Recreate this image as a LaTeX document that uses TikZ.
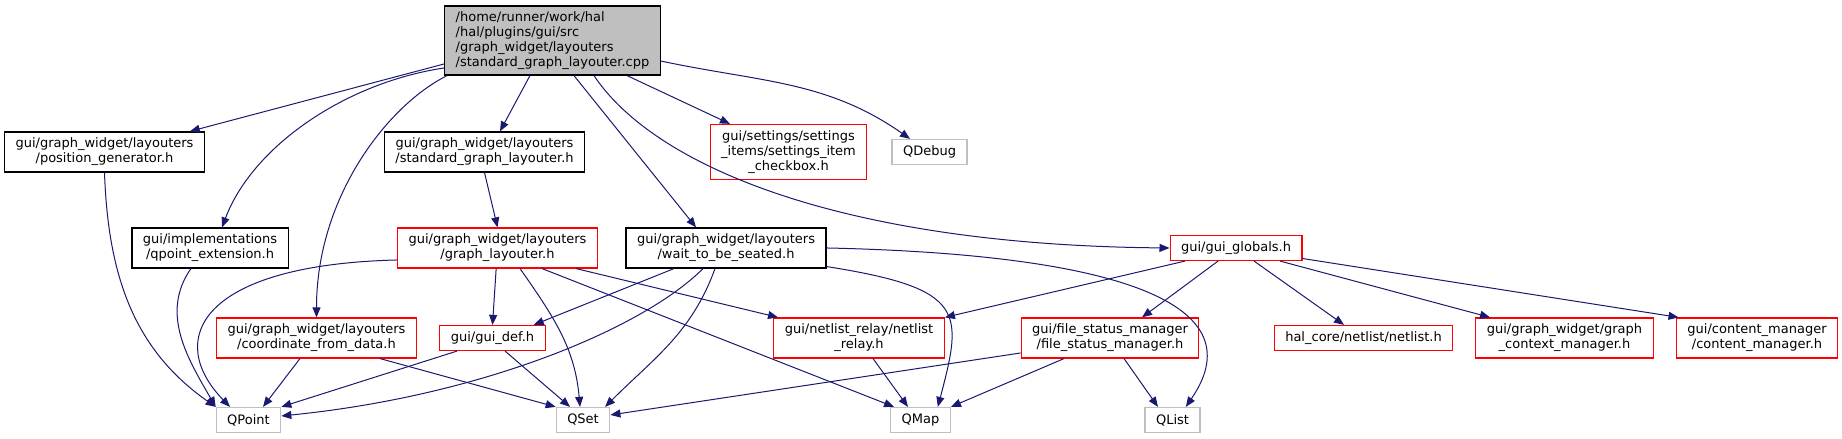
\documentclass[tikz,border=0pt]{standalone}
\usepackage{fontspec}
\setmainfont{DejaVu Sans}
\usetikzlibrary{arrows.meta, positioning}
\definecolor{edgeblue}{HTML}{191970}
\definecolor{extgray}{HTML}{BFBFBF}

\begin{document}
\begin{tikzpicture}[x=0.75pt, y=-0.75pt, on grid]

	\tikzset{
		file/.style={
				rectangle, draw=black, fill=white, line width=0.9pt, inner xsep=8.25pt, inner ysep=0pt, align=center, font=\fontsize{9.75}{11.25}\selectfont
			},
		trunc/.style={file, draw=red},
		ext/.style={file, draw=extgray},
		rootfile/.style={file, fill=extgray, align=left},
		oneline/.style={minimum height=18.75pt},
		twoline/.style={minimum height=30pt},
		threeline/.style={minimum height=41.25pt},
		fourline/.style={minimum height=51.75pt},
		dep/.style={draw=edgeblue, line width=0.75pt, -{Triangle[length=7.5pt, width=6pt]}},
	}

	\useasboundingbox (0,0) rectangle (1842,439);

	\node[rootfile, fourline] (root) at (552.5,40.5) {/home/runner/work/hal\\/hal/plugins/gui/src\\/graph\_widget/layouters\\/standard\_graph\_layouter.cpp};

	\node[file, twoline, below left=83.6pt and 51pt of root] (stdgl) {gui/graph\_widget/layouters\\/standard\_graph\_layouter.h};
	\node[file, twoline, left=285pt of stdgl] (posgen) {gui/graph\_widget/layouters\\/position\_generator.h};
	\node[trunc, threeline, right=228pt of stdgl] (chkbox) {gui/settings/settings\\\_items/settings\_item\\\_checkbox.h};
	\node[ext, oneline, right=105.75pt of chkbox] (qdebug) {QDebug};

	\node[trunc, twoline, below right=72pt and 9.75pt of stdgl] (graphl) {gui/graph\_widget/layouters\\/graph\_layouter.h};
	\node[file, twoline, left=215.6pt of graphl] (qptext) {gui/implementations\\/qpoint\_extension.h};
	\node[file, twoline, right=171.4pt of graphl] (wait) {gui/graph\_widget/layouters\\/wait\_to\_be\_seated.h};
	\node[trunc, oneline, right=382.5pt of wait] (globals) {gui/gui\_globals.h};

	\node[trunc, oneline, below left=67.5pt and 3.75pt of graphl] (guidef) {gui/gui\_def.h};
	\node[trunc, twoline, left=132pt of guidef] (coord) {gui/graph\_widget/layouters\\/coordinate\_from\_data.h};
	\node[trunc, twoline, right=274.9pt of guidef] (relay) {gui/netlist\_relay/netlist\\\_relay.h};
	\node[trunc, twoline, right=188.25pt of relay] (fsm) {gui/file\_status\_manager\\/file\_status\_manager.h};
	\node[trunc, oneline, right=190.1pt of fsm] (netlist) {hal\_core/netlist/netlist.h};
	\node[trunc, twoline, right=150.75pt of netlist] (gctx) {gui/graph\_widget/graph\\\_context\_manager.h};
	\node[trunc, twoline, right=144.4pt of gctx] (cmgr) {gui/content\_manager\\/content\_manager.h};

	\node[ext, oneline, below left=61.5pt and 51pt of coord] (qpoint) {QPoint};
	\node[ext, oneline, right=250.9pt of qpoint] (qset) {QSet};
	\node[ext, oneline, right=253.1pt of qset] (qmap) {QMap};
	\node[ext, oneline, right=189pt of qmap] (qlist) {QList};

	\draw[dep] ([yshift=-17.6pt]root.west) -- ([xshift=64pt]posgen.north);
	\draw[dep] ([yshift=-20.6pt]root.west) .. controls +(-100,15) and +(30,-80) .. ([xshift=9pt]qptext.north);
	\draw[dep] ([xshift=2.25pt]root.south west) .. controls +(-60,30) and +(0,-120) .. (coord.north);
	\draw[dep] ([xshift=-16.9pt]root.south) -- ([xshift=11.6pt]stdgl.north);
	\draw[dep] ([xshift=16.1pt]root.south) -- ([xshift=-22.5pt]wait.north);
	\draw[dep] ([xshift=31.1pt]root.south) .. controls +(60,90) and +(-330,-3) .. (globals.west);
	\draw[dep] ([xshift=55.9pt]root.south) -- ([xshift=-43.9pt]chkbox.north);
	\draw[dep] ([yshift=-15.4pt]root.east) to[out=-12,in=145] ([xshift=-14.6pt]qdebug.north);

	\draw[dep] (posgen.south) to[out=-88,in=145] (qpoint.north west);
	\draw[dep] ([xshift=-14.3pt]qptext.south) to[out=-125,in=120] (qpoint.north west);
	\draw[dep] (stdgl.south) -- (graphl.north);

	\draw[dep] ([yshift=-9pt]graphl.west) .. controls +(-198,5) and +(-65,-67) .. ([xshift=-13.9pt]qpoint.north);
	\draw[dep] ([xshift=-1pt]graphl.south) -- (guidef.north);
	\draw[dep] ([xshift=16.9pt]graphl.south) to[out=-55,in=95] ([xshift=-2.25pt]qset.north);
	\draw[dep] ([xshift=33.4pt]graphl.south) -- ([xshift=3pt]qmap.north west);
	\draw[dep] ([xshift=58.9pt]graphl.south) -- ([xshift=-60.75pt]relay.north);

	\draw[dep] ([xshift=-39pt]wait.south) -- ([xshift=-9pt]guidef.north east);
	\draw[dep] ([xshift=-17.25pt]wait.south) .. controls +(-60,60) and +(200,-20) .. ([yshift=3pt]qpoint.east);
	\draw[dep] ([xshift=-8.25pt]wait.south) to[out=-110,in=45] ([xshift=-4pt]qset.north east);
	\draw[dep] ([yshift=1.5pt]wait.south east) .. controls +(140,22) and +(25,-95) .. ([xshift=13pt]qmap.north);
	\draw[dep] (wait.east) .. controls +(275,6) and +(74,-108) .. ([xshift=10pt]qlist.north);

	\draw[dep] ([xshift=-12.4pt]coord.south) -- ([xshift=10.9pt]qpoint.north);
	\draw[dep] ([xshift=47.6pt]coord.south) -- (qset.north west);
	\draw[dep] ([xshift=-26.6pt]guidef.south) -- (qpoint.north east);
	\draw[dep] ([xshift=9.4pt]guidef.south) -- ([xshift=-9.75pt]qset.north);
	\draw[dep] ([xshift=10.5pt]relay.south) -- ([xshift=-9.4pt]qmap.north);

	\draw[dep] ([xshift=-38.25pt]globals.south) -- (relay.north east);
	\draw[dep] ([xshift=-13.5pt]globals.south) -- ([xshift=24pt]fsm.north);
	\draw[dep] ([xshift=13.5pt]globals.south) -- ([xshift=-14.6pt]netlist.north);
	\draw[dep] ([xshift=33pt]globals.south) -- ([xshift=-55.9pt]gctx.north);
	\draw[dep] ([yshift=-7.9pt]globals.east) -- ([xshift=2pt]cmgr.north west);

	\draw[dep] ([yshift=-11.25pt]fsm.west) -- ([yshift=3.75pt]qset.east);
	\draw[dep] ([xshift=-34.5pt]fsm.south) -- (qmap.north east);
	\draw[dep] ([xshift=10.5pt]fsm.south) -- ([xshift=-10.9pt]qlist.north);

\end{tikzpicture}
\end{document}
